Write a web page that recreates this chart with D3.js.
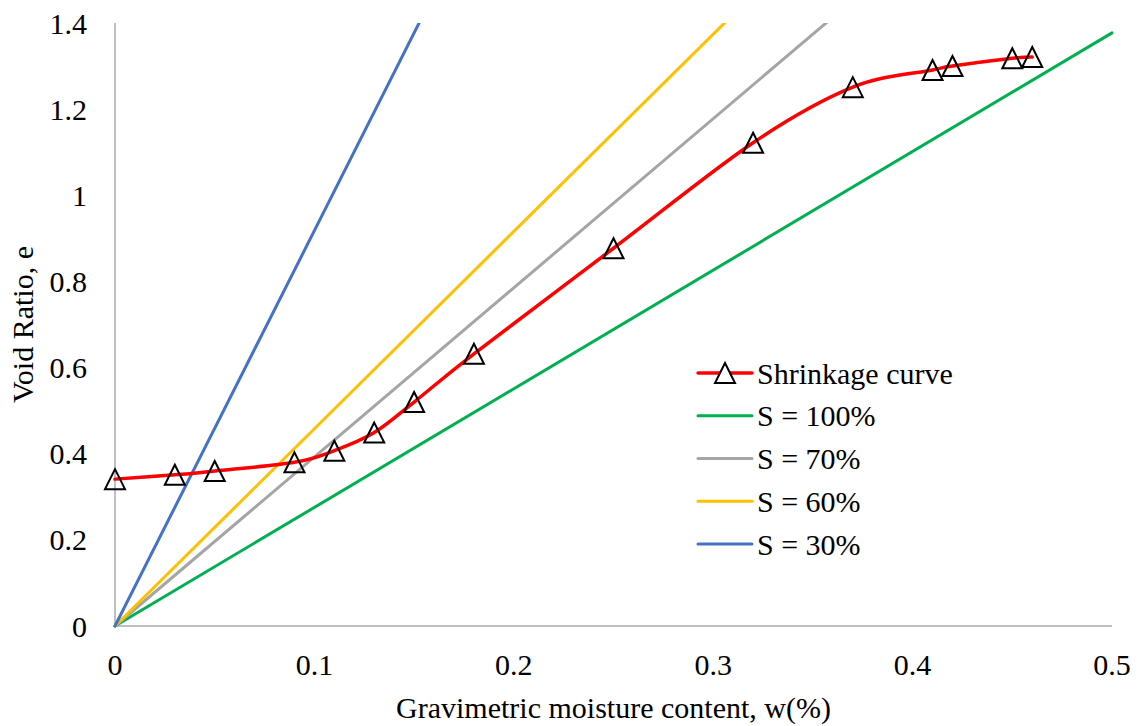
<!DOCTYPE html>
<html>
<head>
<meta charset="utf-8">
<script src="https://cdn.jsdelivr.net/npm/d3@7"></script>
<style>
  body { margin: 0; background: #fff; }
</style>
</head>
<body>
<div id="chart"></div>
<script>
// DATA
const moisture = [0, 0.03, 0.05, 0.09, 0.11, 0.13, 0.15, 0.18, 0.25, 0.32, 0.37, 0.41, 0.42, 0.45, 0.46];
const voidRatio = [0.341, 0.351, 0.36, 0.38, 0.407, 0.449, 0.52, 0.632, 0.877, 1.122, 1.251, 1.291, 1.3, 1.318, 1.321];

// saturation lines, read at w = 0 and w = 0.5
const satW = [0, 0.5];
const sat100 = [0, 1.377];
const sat70 = [0, 1.963];
const sat60 = [0, 2.29];
const sat30 = [0, 4.59];

const xTicks = [0, 0.1, 0.2, 0.3, 0.4, 0.5];
const yTicks = [0, 0.2, 0.4, 0.6, 0.8, 1, 1.2, 1.4];

const series = [
	{ name: "S = 100%", values: sat100, color: "#00B050" },
	{ name: "S = 70%", values: sat70, color: "#A5A5A5" },
	{ name: "S = 60%", values: sat60, color: "#FFC000" },
	{ name: "S = 30%", values: sat30, color: "#4472C4" },
];

//Dimension
const width = 1140,
	height = 726,
	plotLeft = 115,
	plotRight = 1112,
	plotTop = 23,
	plotBottom = 626,
	fontSize = "30px",
	serif = "'Liberation Serif', 'Times New Roman', 'DejaVu Serif', serif";

const svg = d3.select("#chart").append("svg").attr("width", width).attr("height", height);

const x = d3.scaleLinear().domain([0, 0.5]).range([plotLeft, plotRight]);
const y = d3.scaleLinear().domain([0, 1.4]).range([plotBottom, plotTop]);

svg
	.append("defs")
	.append("clipPath")
	.attr("id", "plotClip")
	.append("rect")
	.attr("x", plotLeft - 2)
	.attr("y", plotTop)
	.attr("width", plotRight - plotLeft + 4)
	.attr("height", plotBottom - plotTop + 2);

//AXES (no ticks, only the grey lines)
svg
	.append("line")
	.attr("x1", plotLeft)
	.attr("x2", plotLeft)
	.attr("y1", plotTop)
	.attr("y2", plotBottom)
	.style("stroke", "#BFBFBF")
	.style("stroke-width", 2);
svg
	.append("line")
	.attr("x1", plotLeft)
	.attr("x2", plotRight)
	.attr("y1", plotBottom)
	.attr("y2", plotBottom)
	.style("stroke", "#BFBFBF")
	.style("stroke-width", 2);

//TICK LABELS
svg
	.selectAll("text.ytick")
	.data(yTicks)
	.enter()
	.append("text")
	.attr("class", "ytick")
	.attr("x", 87)
	.attr("y", d => y(d))
	.attr("dy", "0.35em")
	.attr("text-anchor", "end")
	.style("font-family", serif)
	.style("font-size", fontSize)
	.text(d => d);

svg
	.selectAll("text.xtick")
	.data(xTicks)
	.enter()
	.append("text")
	.attr("class", "xtick")
	.attr("x", d => x(d))
	.attr("y", 675)
	.attr("text-anchor", "middle")
	.style("font-family", serif)
	.style("font-size", fontSize)
	.text(d => d);

//AXIS TITLES
svg
	.append("text")
	.attr("x", (plotLeft + plotRight) / 2)
	.attr("y", 718)
	.attr("text-anchor", "middle")
	.style("font-family", serif)
	.style("font-size", fontSize)
	.text("Gravimetric moisture content, w(%)");

svg
	.append("text")
	.attr("transform", `translate(33, ${(plotTop + plotBottom) / 2}) rotate(-90)`)
	.attr("text-anchor", "middle")
	.style("font-family", serif)
	.style("font-size", fontSize)
	.text("Void Ratio, e");

//SATURATION LINES
const plot = svg.append("g").attr("clip-path", "url(#plotClip)");
const straight = d3
	.line()
	.x(d => x(d[0]))
	.y(d => y(d[1]));

series.forEach(s => {
	plot
		.append("path")
		.attr("d", straight(d3.zip(satW, s.values)))
		.style("fill", "none")
		.style("stroke", s.color)
		.style("stroke-width", 3)
		.style("stroke-linecap", "round");
});

//SHRINKAGE CURVE
const pts = d3.zip(moisture, voidRatio);
const smooth = d3
	.line()
	.x(d => x(d[0]))
	.y(d => y(d[1]))
	.curve(d3.curveCardinal.tension(0));

svg
	.append("path")
	.attr("d", smooth(pts))
	.style("fill", "none")
	.style("stroke", "#FF0000")
	.style("stroke-width", 3.5)
	.style("stroke-linecap", "round");

// spreadsheet-style triangle: as tall as wide, centred on its box
const boxTriangle = {
	draw(ctx, size) {
		const h = Math.sqrt(size) / 2;
		ctx.moveTo(0, -h);
		ctx.lineTo(h, h);
		ctx.lineTo(-h, h);
		ctx.closePath();
	},
};
const tri = d3.symbol().type(boxTriangle).size(400);

svg
	.selectAll("path.marker")
	.data(pts)
	.enter()
	.append("path")
	.attr("class", "marker")
	.attr("d", tri)
	.attr("transform", d => `translate(${x(d[0])}, ${y(d[1])})`)
	.style("fill", "none")
	.style("stroke", "#000")
	.style("stroke-width", 2);

//LEGEND
const legend = svg.append("g").attr("transform", "translate(698, 373)");
const legendData = [{ name: "Shrinkage curve", color: "#FF0000", marker: true }].concat(series);

const item = legend
	.selectAll("g")
	.data(legendData)
	.enter()
	.append("g")
	.attr("transform", (d, i) => `translate(0, ${i * 42.75})`);

item
	.append("line")
	.attr("x1", 0)
	.attr("x2", 54)
	.style("stroke", d => d.color)
	.style("stroke-width", d => (d.marker ? 3.5 : 3))
	.style("stroke-linecap", "round");

item
	.filter(d => d.marker)
	.append("path")
	.attr("d", tri)
	.attr("transform", "translate(27, 0)")
	.style("fill", "#fff")
	.style("stroke", "#000")
	.style("stroke-width", 2);

item
	.append("text")
	.attr("x", 59)
	.attr("dy", "0.35em")
	.style("font-family", serif)
	.style("font-size", fontSize)
	.text(d => d.name);
</script>
</body>
</html>
